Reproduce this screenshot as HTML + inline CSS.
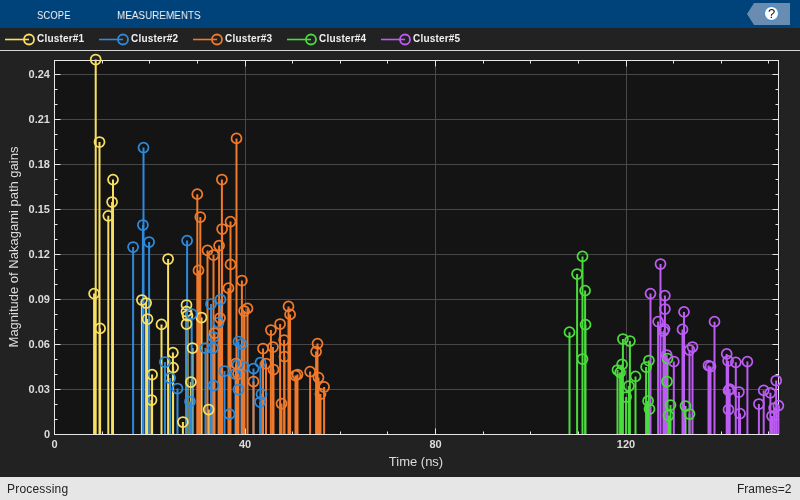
<!DOCTYPE html>
<html><head><meta charset="utf-8"><style>
html,body{margin:0;padding:0;width:800px;height:500px;overflow:hidden;background:#222222;font-family:"Liberation Sans",sans-serif}
#tb{position:absolute;left:0;top:0;width:800px;height:28px;background:#00427a}
#tb span{position:absolute;top:10px;font-size:11px;line-height:11px;color:#f4f4f4;transform-origin:0 0}
#sb{position:absolute;left:0;top:477px;width:800px;height:23px;background:#e6e6e6;color:#222;font-size:12px}
#sb span{position:absolute;top:5px}
svg{position:absolute;left:0;top:0;will-change:transform}
#tb span,#sb span{will-change:transform}
</style></head><body>
<div id="tb"><span style="left:37px;transform:scaleX(0.87)">SCOPE</span><span style="left:117px;transform:scaleX(0.9)">MEASUREMENTS</span></div>
<svg width="800" height="500" viewBox="0 0 800 500">
<rect x="0" y="28" width="800" height="22" fill="#222222"/>
<rect x="0" y="50" width="800" height="1" fill="#d6d6d6"/>
<rect x="54.5" y="60.5" width="724" height="374" fill="#141414"/>
<path d="M5 39.5H29" stroke="#F8DF60" stroke-width="1.6"/>
<circle cx="29" cy="39.5" r="5" stroke="#F8DF60" stroke-width="1.8" fill="none"/>
<text x="37" y="42" font-family="Liberation Sans, sans-serif" font-size="10" font-weight="bold" letter-spacing="0.2" fill="#f0f0f0">Cluster#1</text>
<path d="M99 39.5H123" stroke="#2E8ADB" stroke-width="1.6"/>
<circle cx="123" cy="39.5" r="5" stroke="#2E8ADB" stroke-width="1.8" fill="none"/>
<text x="131" y="42" font-family="Liberation Sans, sans-serif" font-size="10" font-weight="bold" letter-spacing="0.2" fill="#f0f0f0">Cluster#2</text>
<path d="M193 39.5H217" stroke="#F07A2B" stroke-width="1.6"/>
<circle cx="217" cy="39.5" r="5" stroke="#F07A2B" stroke-width="1.8" fill="none"/>
<text x="225" y="42" font-family="Liberation Sans, sans-serif" font-size="10" font-weight="bold" letter-spacing="0.2" fill="#f0f0f0">Cluster#3</text>
<path d="M287 39.5H311" stroke="#4ADC3C" stroke-width="1.6"/>
<circle cx="311" cy="39.5" r="5" stroke="#4ADC3C" stroke-width="1.8" fill="none"/>
<text x="319" y="42" font-family="Liberation Sans, sans-serif" font-size="10" font-weight="bold" letter-spacing="0.2" fill="#f0f0f0">Cluster#4</text>
<path d="M381 39.5H405" stroke="#BC5CF3" stroke-width="1.6"/>
<circle cx="405" cy="39.5" r="5" stroke="#BC5CF3" stroke-width="1.8" fill="none"/>
<text x="413" y="42" font-family="Liberation Sans, sans-serif" font-size="10" font-weight="bold" letter-spacing="0.2" fill="#f0f0f0">Cluster#5</text>
<path d="M245.5 60.5V434.5M435.5 60.5V434.5M626.5 60.5V434.5M54.5 389.5H778.5M54.5 344.5H778.5M54.5 299.5H778.5M54.5 254.5H778.5M54.5 209.5H778.5M54.5 164.5H778.5M54.5 119.5H778.5M54.5 74.5H778.5" stroke="#484848" stroke-width="1" fill="none"/>
<path d="M54.5 434.5v-6M54.5 60.5v6M102.5 434.5v-3M102.5 60.5v3M149.5 434.5v-3M149.5 60.5v3M197.5 434.5v-3M197.5 60.5v3M245.5 434.5v-6M245.5 60.5v6M292.5 434.5v-3M292.5 60.5v3M340.5 434.5v-3M340.5 60.5v3M387.5 434.5v-3M387.5 60.5v3M435.5 434.5v-6M435.5 60.5v6M483.5 434.5v-3M483.5 60.5v3M530.5 434.5v-3M530.5 60.5v3M578.5 434.5v-3M578.5 60.5v3M626.5 434.5v-6M626.5 60.5v6M673.5 434.5v-3M673.5 60.5v3M721.5 434.5v-3M721.5 60.5v3M768.5 434.5v-3M768.5 60.5v3M54.5 434.5h6M778.5 434.5h-6M54.5 419.5h3M778.5 419.5h-3M54.5 404.5h3M778.5 404.5h-3M54.5 389.5h6M778.5 389.5h-6M54.5 374.5h3M778.5 374.5h-3M54.5 359.5h3M778.5 359.5h-3M54.5 344.5h6M778.5 344.5h-6M54.5 329.5h3M778.5 329.5h-3M54.5 314.5h3M778.5 314.5h-3M54.5 299.5h6M778.5 299.5h-6M54.5 284.5h3M778.5 284.5h-3M54.5 269.5h3M778.5 269.5h-3M54.5 254.5h6M778.5 254.5h-6M54.5 239.5h3M778.5 239.5h-3M54.5 224.5h3M778.5 224.5h-3M54.5 209.5h6M778.5 209.5h-6M54.5 194.5h3M778.5 194.5h-3M54.5 179.5h3M778.5 179.5h-3M54.5 164.5h6M778.5 164.5h-6M54.5 149.5h3M778.5 149.5h-3M54.5 134.5h3M778.5 134.5h-3M54.5 119.5h6M778.5 119.5h-6M54.5 104.5h3M778.5 104.5h-3M54.5 89.5h3M778.5 89.5h-3M54.5 74.5h6M778.5 74.5h-6" stroke="#e6e6e6" stroke-width="1" fill="none"/>
<rect x="54.5" y="60.5" width="724" height="374" stroke="#e6e6e6" stroke-width="1" fill="none"/>
<path d="M95.7 59.5V434M99.5 142V434M113 179.6V434M112.1 202V434M108.3 215.8V434M94.1 293.6V434M100.1 328.4V434M168.1 259V434M141.9 300V434M146.1 303V434M147.5 319V434M161.5 324.4V434M186.5 305V434M186.5 311.5V434M187.5 315.5V434M186.5 324V434M201.5 317.5V434M192.5 348V434M172.9 352.6V434M173.1 367.6V434M152.1 374.6V434M190.9 382V434M151.5 400V434M182.9 422V434M208.7 409.5V434" stroke="#F8DF60" stroke-width="2" fill="none"/>
<path d="M143.5 147.6V434M142.9 225V434M149.1 242V434M133.1 247V434M187.1 240.6V434M191.7 314V434M164.9 362V434M170.1 378V434M177.5 388.5V434M190 401.5V434M211 304V434M220.5 299.5V434M218.5 322.5V434M213.5 337V434M205.5 348V434M212.9 348V434M213.5 385.5V434M224.5 371V434M229.5 414.2V434M238.5 341.5V434M241.5 344V434M243.5 366.5V434M253.5 368.5V434M260.5 362.5V434M238.5 389.5V434M261.5 394V434M260.1 402V434M237.5 365V434M235.5 374V434" stroke="#2E8ADB" stroke-width="2" fill="none"/>
<path d="M236.5 138.4V434M221.9 179.5V434M197.3 194.2V434M200.3 217V434M230.5 221.6V434M222.1 229V434M219.1 245.6V434M207.5 250.4V434M213.5 255V434M230.5 264.4V434M198.5 270.4V434M241.9 280.5V434M228.5 288.2V434M244.1 311V434M247.5 308.4V434M220 318V434M214.5 333V434M288.5 306.4V434M290.1 314.4V434M280.1 324V434M270.9 330V434M284.1 340V434M273 347V434M263 348.5V434M284.5 356.5V434M317.5 343.6V434M316.1 351.6V434M266 363.5V434M273.5 369.5V434M236 363.5V434M238 374V434M253.5 381.5V434M281.5 403.6V434M295.5 375.5V434M297.5 374.5V434M310.1 371.6V434M318.5 377.6V434M324.1 387V434M320.5 394V434" stroke="#F07A2B" stroke-width="2" fill="none"/>
<path d="M582.5 256.4V434M577.1 274V434M585.1 290.6V434M585.5 324.6V434M569.5 332.2V434M582.5 359V434M622.9 339V434M629.9 341V434M622.1 364.4V434M617.5 370V434M620.1 372.4V434M635.5 376.4V434M628.9 386V434M626.1 397V434M648.9 360.5V434M646.1 367V434M648.1 401V434M649.5 409V434M667.5 358.5V434M667 381.5V434M670.5 405V434M668.5 415.6V434M685.5 406V434M689.5 414V434" stroke="#4ADC3C" stroke-width="2" fill="none"/>
<path d="M660.5 264V434M650.5 293.6V434M664.9 295.6V434M664.9 309V434M658.1 321.6V434M664.5 329V434M663.5 331V434M684 311.9V434M682.5 329.4V434M714.5 321.7V434M692.5 347V434M689.5 350V434M673.8 361.5V434M666.7 355V434M726.7 353.9V434M728.1 360.9V434M735.8 362.3V434M747.4 361.6V434M708.5 365.5V434M710.5 366.5V434M728.5 390.4V434M729.7 389.2V434M738.9 392V434M728.5 409.6V434M740 413.6V434M763.7 390.4V434M770.4 392.8V434M776.2 380.5V434M758.9 404V434M778.4 405.6V434M774.1 408V434M772 416V434" stroke="#BC5CF3" stroke-width="2" fill="none"/>
<path d="M90.7 59.5a5 5 0 1 0 10 0a5 5 0 1 0 -10 0M94.5 142a5 5 0 1 0 10 0a5 5 0 1 0 -10 0M108 179.6a5 5 0 1 0 10 0a5 5 0 1 0 -10 0M107.1 202a5 5 0 1 0 10 0a5 5 0 1 0 -10 0M103.3 215.8a5 5 0 1 0 10 0a5 5 0 1 0 -10 0M89.1 293.6a5 5 0 1 0 10 0a5 5 0 1 0 -10 0M95.1 328.4a5 5 0 1 0 10 0a5 5 0 1 0 -10 0M163.1 259a5 5 0 1 0 10 0a5 5 0 1 0 -10 0M136.9 300a5 5 0 1 0 10 0a5 5 0 1 0 -10 0M141.1 303a5 5 0 1 0 10 0a5 5 0 1 0 -10 0M142.5 319a5 5 0 1 0 10 0a5 5 0 1 0 -10 0M156.5 324.4a5 5 0 1 0 10 0a5 5 0 1 0 -10 0M181.5 305a5 5 0 1 0 10 0a5 5 0 1 0 -10 0M181.5 311.5a5 5 0 1 0 10 0a5 5 0 1 0 -10 0M182.5 315.5a5 5 0 1 0 10 0a5 5 0 1 0 -10 0M181.5 324a5 5 0 1 0 10 0a5 5 0 1 0 -10 0M196.5 317.5a5 5 0 1 0 10 0a5 5 0 1 0 -10 0M187.5 348a5 5 0 1 0 10 0a5 5 0 1 0 -10 0M167.9 352.6a5 5 0 1 0 10 0a5 5 0 1 0 -10 0M168.1 367.6a5 5 0 1 0 10 0a5 5 0 1 0 -10 0M147.1 374.6a5 5 0 1 0 10 0a5 5 0 1 0 -10 0M185.9 382a5 5 0 1 0 10 0a5 5 0 1 0 -10 0M146.5 400a5 5 0 1 0 10 0a5 5 0 1 0 -10 0M177.9 422a5 5 0 1 0 10 0a5 5 0 1 0 -10 0M203.7 409.5a5 5 0 1 0 10 0a5 5 0 1 0 -10 0" stroke="#F8DF60" stroke-width="1.75" fill="none"/>
<path d="M138.5 147.6a5 5 0 1 0 10 0a5 5 0 1 0 -10 0M137.9 225a5 5 0 1 0 10 0a5 5 0 1 0 -10 0M144.1 242a5 5 0 1 0 10 0a5 5 0 1 0 -10 0M128.1 247a5 5 0 1 0 10 0a5 5 0 1 0 -10 0M182.1 240.6a5 5 0 1 0 10 0a5 5 0 1 0 -10 0M186.7 314a5 5 0 1 0 10 0a5 5 0 1 0 -10 0M159.9 362a5 5 0 1 0 10 0a5 5 0 1 0 -10 0M165.1 378a5 5 0 1 0 10 0a5 5 0 1 0 -10 0M172.5 388.5a5 5 0 1 0 10 0a5 5 0 1 0 -10 0M185 401.5a5 5 0 1 0 10 0a5 5 0 1 0 -10 0M206 304a5 5 0 1 0 10 0a5 5 0 1 0 -10 0M215.5 299.5a5 5 0 1 0 10 0a5 5 0 1 0 -10 0M213.5 322.5a5 5 0 1 0 10 0a5 5 0 1 0 -10 0M208.5 337a5 5 0 1 0 10 0a5 5 0 1 0 -10 0M200.5 348a5 5 0 1 0 10 0a5 5 0 1 0 -10 0M207.9 348a5 5 0 1 0 10 0a5 5 0 1 0 -10 0M208.5 385.5a5 5 0 1 0 10 0a5 5 0 1 0 -10 0M219.5 371a5 5 0 1 0 10 0a5 5 0 1 0 -10 0M224.5 414.2a5 5 0 1 0 10 0a5 5 0 1 0 -10 0M233.5 341.5a5 5 0 1 0 10 0a5 5 0 1 0 -10 0M236.5 344a5 5 0 1 0 10 0a5 5 0 1 0 -10 0M238.5 366.5a5 5 0 1 0 10 0a5 5 0 1 0 -10 0M248.5 368.5a5 5 0 1 0 10 0a5 5 0 1 0 -10 0M255.5 362.5a5 5 0 1 0 10 0a5 5 0 1 0 -10 0M233.5 389.5a5 5 0 1 0 10 0a5 5 0 1 0 -10 0M256.5 394a5 5 0 1 0 10 0a5 5 0 1 0 -10 0M255.1 402a5 5 0 1 0 10 0a5 5 0 1 0 -10 0M232.5 365a5 5 0 1 0 10 0a5 5 0 1 0 -10 0M230.5 374a5 5 0 1 0 10 0a5 5 0 1 0 -10 0" stroke="#2E8ADB" stroke-width="1.75" fill="none"/>
<path d="M231.5 138.4a5 5 0 1 0 10 0a5 5 0 1 0 -10 0M216.9 179.5a5 5 0 1 0 10 0a5 5 0 1 0 -10 0M192.3 194.2a5 5 0 1 0 10 0a5 5 0 1 0 -10 0M195.3 217a5 5 0 1 0 10 0a5 5 0 1 0 -10 0M225.5 221.6a5 5 0 1 0 10 0a5 5 0 1 0 -10 0M217.1 229a5 5 0 1 0 10 0a5 5 0 1 0 -10 0M214.1 245.6a5 5 0 1 0 10 0a5 5 0 1 0 -10 0M202.5 250.4a5 5 0 1 0 10 0a5 5 0 1 0 -10 0M208.5 255a5 5 0 1 0 10 0a5 5 0 1 0 -10 0M225.5 264.4a5 5 0 1 0 10 0a5 5 0 1 0 -10 0M193.5 270.4a5 5 0 1 0 10 0a5 5 0 1 0 -10 0M236.9 280.5a5 5 0 1 0 10 0a5 5 0 1 0 -10 0M223.5 288.2a5 5 0 1 0 10 0a5 5 0 1 0 -10 0M239.1 311a5 5 0 1 0 10 0a5 5 0 1 0 -10 0M242.5 308.4a5 5 0 1 0 10 0a5 5 0 1 0 -10 0M215 318a5 5 0 1 0 10 0a5 5 0 1 0 -10 0M209.5 333a5 5 0 1 0 10 0a5 5 0 1 0 -10 0M283.5 306.4a5 5 0 1 0 10 0a5 5 0 1 0 -10 0M285.1 314.4a5 5 0 1 0 10 0a5 5 0 1 0 -10 0M275.1 324a5 5 0 1 0 10 0a5 5 0 1 0 -10 0M265.9 330a5 5 0 1 0 10 0a5 5 0 1 0 -10 0M279.1 340a5 5 0 1 0 10 0a5 5 0 1 0 -10 0M268 347a5 5 0 1 0 10 0a5 5 0 1 0 -10 0M258 348.5a5 5 0 1 0 10 0a5 5 0 1 0 -10 0M279.5 356.5a5 5 0 1 0 10 0a5 5 0 1 0 -10 0M312.5 343.6a5 5 0 1 0 10 0a5 5 0 1 0 -10 0M311.1 351.6a5 5 0 1 0 10 0a5 5 0 1 0 -10 0M261 363.5a5 5 0 1 0 10 0a5 5 0 1 0 -10 0M268.5 369.5a5 5 0 1 0 10 0a5 5 0 1 0 -10 0M231 363.5a5 5 0 1 0 10 0a5 5 0 1 0 -10 0M233 374a5 5 0 1 0 10 0a5 5 0 1 0 -10 0M248.5 381.5a5 5 0 1 0 10 0a5 5 0 1 0 -10 0M276.5 403.6a5 5 0 1 0 10 0a5 5 0 1 0 -10 0M290.5 375.5a5 5 0 1 0 10 0a5 5 0 1 0 -10 0M292.5 374.5a5 5 0 1 0 10 0a5 5 0 1 0 -10 0M305.1 371.6a5 5 0 1 0 10 0a5 5 0 1 0 -10 0M313.5 377.6a5 5 0 1 0 10 0a5 5 0 1 0 -10 0M319.1 387a5 5 0 1 0 10 0a5 5 0 1 0 -10 0M315.5 394a5 5 0 1 0 10 0a5 5 0 1 0 -10 0" stroke="#F07A2B" stroke-width="1.75" fill="none"/>
<path d="M577.5 256.4a5 5 0 1 0 10 0a5 5 0 1 0 -10 0M572.1 274a5 5 0 1 0 10 0a5 5 0 1 0 -10 0M580.1 290.6a5 5 0 1 0 10 0a5 5 0 1 0 -10 0M580.5 324.6a5 5 0 1 0 10 0a5 5 0 1 0 -10 0M564.5 332.2a5 5 0 1 0 10 0a5 5 0 1 0 -10 0M577.5 359a5 5 0 1 0 10 0a5 5 0 1 0 -10 0M617.9 339a5 5 0 1 0 10 0a5 5 0 1 0 -10 0M624.9 341a5 5 0 1 0 10 0a5 5 0 1 0 -10 0M617.1 364.4a5 5 0 1 0 10 0a5 5 0 1 0 -10 0M612.5 370a5 5 0 1 0 10 0a5 5 0 1 0 -10 0M615.1 372.4a5 5 0 1 0 10 0a5 5 0 1 0 -10 0M630.5 376.4a5 5 0 1 0 10 0a5 5 0 1 0 -10 0M623.9 386a5 5 0 1 0 10 0a5 5 0 1 0 -10 0M621.1 397a5 5 0 1 0 10 0a5 5 0 1 0 -10 0M643.9 360.5a5 5 0 1 0 10 0a5 5 0 1 0 -10 0M641.1 367a5 5 0 1 0 10 0a5 5 0 1 0 -10 0M643.1 401a5 5 0 1 0 10 0a5 5 0 1 0 -10 0M644.5 409a5 5 0 1 0 10 0a5 5 0 1 0 -10 0M662.5 358.5a5 5 0 1 0 10 0a5 5 0 1 0 -10 0M662 381.5a5 5 0 1 0 10 0a5 5 0 1 0 -10 0M665.5 405a5 5 0 1 0 10 0a5 5 0 1 0 -10 0M663.5 415.6a5 5 0 1 0 10 0a5 5 0 1 0 -10 0M680.5 406a5 5 0 1 0 10 0a5 5 0 1 0 -10 0M684.5 414a5 5 0 1 0 10 0a5 5 0 1 0 -10 0" stroke="#4ADC3C" stroke-width="1.75" fill="none"/>
<path d="M655.5 264a5 5 0 1 0 10 0a5 5 0 1 0 -10 0M645.5 293.6a5 5 0 1 0 10 0a5 5 0 1 0 -10 0M659.9 295.6a5 5 0 1 0 10 0a5 5 0 1 0 -10 0M659.9 309a5 5 0 1 0 10 0a5 5 0 1 0 -10 0M653.1 321.6a5 5 0 1 0 10 0a5 5 0 1 0 -10 0M659.5 329a5 5 0 1 0 10 0a5 5 0 1 0 -10 0M658.5 331a5 5 0 1 0 10 0a5 5 0 1 0 -10 0M679 311.9a5 5 0 1 0 10 0a5 5 0 1 0 -10 0M677.5 329.4a5 5 0 1 0 10 0a5 5 0 1 0 -10 0M709.5 321.7a5 5 0 1 0 10 0a5 5 0 1 0 -10 0M687.5 347a5 5 0 1 0 10 0a5 5 0 1 0 -10 0M684.5 350a5 5 0 1 0 10 0a5 5 0 1 0 -10 0M668.8 361.5a5 5 0 1 0 10 0a5 5 0 1 0 -10 0M661.7 355a5 5 0 1 0 10 0a5 5 0 1 0 -10 0M721.7 353.9a5 5 0 1 0 10 0a5 5 0 1 0 -10 0M723.1 360.9a5 5 0 1 0 10 0a5 5 0 1 0 -10 0M730.8 362.3a5 5 0 1 0 10 0a5 5 0 1 0 -10 0M742.4 361.6a5 5 0 1 0 10 0a5 5 0 1 0 -10 0M703.5 365.5a5 5 0 1 0 10 0a5 5 0 1 0 -10 0M705.5 366.5a5 5 0 1 0 10 0a5 5 0 1 0 -10 0M723.5 390.4a5 5 0 1 0 10 0a5 5 0 1 0 -10 0M724.7 389.2a5 5 0 1 0 10 0a5 5 0 1 0 -10 0M733.9 392a5 5 0 1 0 10 0a5 5 0 1 0 -10 0M723.5 409.6a5 5 0 1 0 10 0a5 5 0 1 0 -10 0M735 413.6a5 5 0 1 0 10 0a5 5 0 1 0 -10 0M758.7 390.4a5 5 0 1 0 10 0a5 5 0 1 0 -10 0M765.4 392.8a5 5 0 1 0 10 0a5 5 0 1 0 -10 0M771.2 380.5a5 5 0 1 0 10 0a5 5 0 1 0 -10 0M753.9 404a5 5 0 1 0 10 0a5 5 0 1 0 -10 0M773.4 405.6a5 5 0 1 0 10 0a5 5 0 1 0 -10 0M769.1 408a5 5 0 1 0 10 0a5 5 0 1 0 -10 0M767 416a5 5 0 1 0 10 0a5 5 0 1 0 -10 0" stroke="#BC5CF3" stroke-width="1.75" fill="none"/>
<g font-family="Liberation Sans, sans-serif" font-size="11" font-weight="bold" fill="#dcdcdc"><text x="50" y="438" text-anchor="end">0</text><text x="50" y="393" text-anchor="end">0.03</text><text x="50" y="348" text-anchor="end">0.06</text><text x="50" y="303" text-anchor="end">0.09</text><text x="50" y="258" text-anchor="end">0.12</text><text x="50" y="213" text-anchor="end">0.15</text><text x="50" y="168" text-anchor="end">0.18</text><text x="50" y="123" text-anchor="end">0.21</text><text x="50" y="78" text-anchor="end">0.24</text><text x="54.5" y="448" text-anchor="middle">0</text><text x="245" y="448" text-anchor="middle">40</text><text x="435.5" y="448" text-anchor="middle">80</text><text x="626" y="448" text-anchor="middle">120</text></g>
<text x="416" y="466" text-anchor="middle" font-family="Liberation Sans, sans-serif" font-size="13" fill="#dcdcdc">Time (ns)</text>
<text transform="translate(18 247) rotate(-90)" text-anchor="middle" font-family="Liberation Sans, sans-serif" font-size="13" fill="#dcdcdc">Magnitude of Nakagami path gains</text>
<path d="M747 14L754 3H790V25H754Z" fill="#6a8cb0"/>
<circle cx="771.5" cy="13.5" r="7" fill="#fff" stroke="#2f86d8" stroke-width="1"/>
<text x="771.5" y="18" text-anchor="middle" font-family="Liberation Sans, sans-serif" font-size="13" fill="#111">?</text>
</svg>
<div id="sb"><span style="left:7px;letter-spacing:0.2px">Processing</span><span style="right:9px">Frames=2</span></div>
</body></html>
